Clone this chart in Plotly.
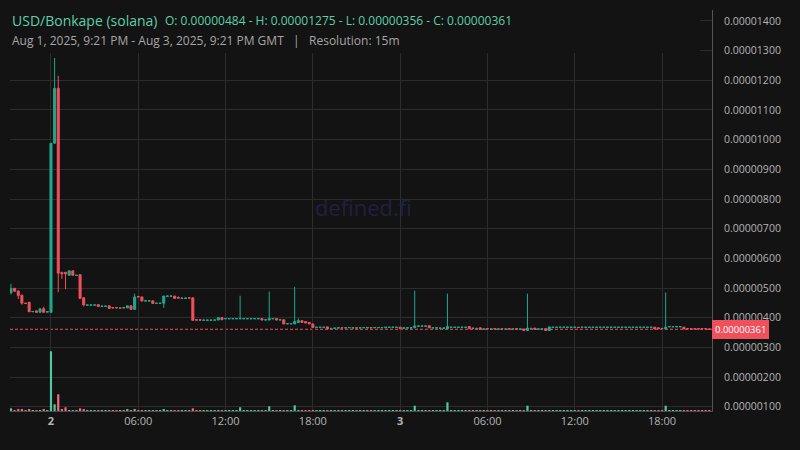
import pandas as pd
import plotly.graph_objects as go

# 15m candles, prices in units of 1e-8 USD
times = pd.date_range('2025-08-01 21:15', periods=193, freq='15min')

open_ = [
    484, 499, 490, 476, 449, 452, 420, 423, 418, 430,
    419, 418, 988, 1173, 553, 553, 543, 558, 542, 545,
    467, 442, 442, 442, 444, 438, 438, 440, 434, 434,
    432, 434, 433, 440, 428, 471, 470, 456, 456, 457,
    448, 448, 449, 472, 472, 473, 468, 465, 465, 467,
    467, 393, 393, 391, 391, 391, 392, 392, 400, 396,
    396, 396, 396, 396, 396, 396, 396, 396, 396, 397,
    392, 392, 396, 397, 392, 393, 379, 379, 379, 384,
    390, 387, 384, 379, 367, 367, 367, 369, 363, 364,
    365, 366, 365, 366, 365, 366, 365, 366, 365, 367,
    366, 366, 366, 366, 367, 367, 367, 368, 364, 365,
    365, 366, 371, 371, 371, 373, 365, 365, 364, 364,
    363, 367, 367, 367, 367, 367, 370, 365, 363, 366,
    361, 363, 361, 363, 361, 363, 361, 363, 361, 363,
    361, 362, 357, 363, 365, 361, 361, 363, 357, 367,
    367, 367, 367, 367, 367, 367, 368, 367, 367, 367,
    367, 367, 367, 367, 367, 367, 367, 367, 367, 367,
    367, 367, 367, 367, 367, 367, 367, 368, 366, 364,
    362, 369, 369, 369, 369, 368, 363, 363, 363, 363,
    363, 363, 362,
]
high = [
    514, 500, 491, 477, 450, 452, 421, 423, 430, 437,
    420, 988, 1275, 1215, 553, 553, 558, 558, 544, 545,
    467, 444, 443, 444, 444, 440, 440, 440, 434, 434,
    434, 434, 440, 440, 481, 471, 470, 457, 457, 457,
    449, 449, 473, 474, 474, 473, 472, 467, 467, 467,
    467, 393, 393, 393, 393, 393, 393, 400, 400, 397,
    397, 397, 397, 474, 397, 397, 397, 397, 397, 397,
    393, 488, 397, 397, 393, 393, 380, 380, 504, 398,
    390, 387, 384, 379, 368, 368, 368, 370, 365, 365,
    366, 366, 367, 367, 367, 366, 367, 367, 367, 367,
    367, 368, 368, 368, 369, 369, 369, 368, 366, 367,
    367, 491, 373, 373, 373, 373, 367, 367, 366, 366,
    481, 369, 369, 369, 369, 369, 370, 365, 365, 366,
    363, 363, 363, 363, 363, 363, 363, 363, 363, 363,
    363, 362, 481, 365, 365, 363, 363, 363, 370, 369,
    369, 369, 369, 369, 369, 369, 368, 369, 369, 369,
    369, 369, 369, 369, 369, 369, 369, 369, 369, 369,
    369, 369, 369, 369, 369, 369, 369, 368, 366, 364,
    485, 370, 370, 370, 370, 368, 363, 363, 363, 363,
    363, 363, 362,
]
low = [
    478, 488, 463, 444, 447, 420, 419, 418, 418, 418,
    418, 418, 988, 486, 531, 496, 543, 543, 542, 465,
    438, 442, 442, 442, 438, 438, 438, 431, 432, 432,
    432, 433, 433, 428, 428, 470, 456, 455, 455, 448,
    448, 448, 433, 472, 472, 465, 466, 465, 465, 466,
    391, 391, 391, 391, 391, 391, 391, 392, 393, 396,
    396, 396, 396, 396, 396, 396, 396, 396, 396, 392,
    392, 392, 396, 392, 392, 379, 379, 379, 379, 384,
    384, 382, 379, 367, 367, 367, 367, 361, 363, 363,
    364, 365, 365, 365, 365, 365, 365, 365, 365, 366,
    366, 366, 366, 366, 367, 367, 367, 363, 364, 365,
    365, 366, 371, 371, 371, 366, 365, 365, 364, 364,
    363, 367, 367, 367, 367, 367, 363, 363, 363, 361,
    361, 361, 361, 361, 361, 361, 361, 361, 361, 361,
    361, 356, 356, 363, 361, 361, 361, 356, 356, 367,
    367, 367, 367, 367, 367, 367, 367, 367, 367, 367,
    367, 367, 367, 367, 367, 367, 367, 367, 367, 367,
    367, 367, 367, 367, 367, 367, 367, 362, 362, 362,
    362, 368, 368, 368, 368, 362, 361, 361, 361, 361,
    361, 361, 361,
]
close = [
    499, 489, 475, 449, 448, 420, 421, 418, 430, 418,
    420, 988, 1173, 550, 548, 548, 558, 543, 543, 465,
    443, 443, 443, 443, 438, 439, 439, 431, 433, 433,
    433, 433, 440, 428, 470, 470, 456, 457, 457, 448,
    449, 449, 473, 473, 473, 465, 466, 466, 466, 466,
    391, 392, 392, 392, 392, 392, 392, 400, 393, 397,
    397, 397, 397, 397, 397, 397, 397, 397, 397, 392,
    393, 397, 397, 392, 393, 379, 380, 380, 387, 390,
    384, 382, 379, 367, 368, 368, 368, 362, 364, 365,
    366, 365, 366, 367, 366, 365, 366, 367, 367, 366,
    367, 367, 367, 368, 368, 368, 368, 363, 366, 366,
    366, 372, 372, 372, 372, 366, 366, 366, 365, 365,
    370, 368, 368, 368, 368, 368, 363, 364, 364, 361,
    362, 362, 362, 362, 362, 362, 362, 362, 362, 362,
    362, 357, 365, 364, 361, 362, 362, 357, 369, 368,
    368, 368, 368, 368, 368, 368, 367, 368, 368, 368,
    368, 368, 368, 368, 368, 368, 368, 368, 368, 368,
    368, 368, 368, 368, 368, 368, 368, 362, 363, 363,
    368, 370, 370, 370, 370, 362, 362, 362, 362, 362,
    362, 362, 361,
]
# volume, thousand USD
volume = [
    2.7, 0.7, 1.7, 1.7, 0.7, 1.7, 0.7, 0.7, 0.7, 1.7,
    0.7, 59.7, 6.7, 16.7, 1.7, 3.7, 0.7, 0.7, 0.7, 2.7,
    1.7, 0.7, 0.7, 0.7, 0.7, 0.7, 0.7, 0.7, 0.7, 0.7,
    0.7, 0.7, 1.7, 0.7, 1.7, 0.7, 0.7, 0.7, 0.7, 0.7,
    0.7, 0.7, 1.7, 0.7, 0.7, 0.7, 0.7, 0.7, 0.7, 0.7,
    2.7, 0.7, 0.7, 0.7, 0.7, 0.7, 0.7, 0.7, 0.7, 0.7,
    0.7, 0.7, 0.7, 3.7, 0.7, 0.7, 0.7, 0.7, 0.7, 0.7,
    0.7, 4.7, 0.7, 0.7, 0.7, 0.7, 0.7, 0.7, 5.7, 0.7,
    0.7, 0.7, 0.7, 0.7, 0.7, 0.7, 0.7, 0.7, 0.7, 0.7,
    0.7, 0.7, 0.7, 0.7, 0.7, 0.7, 0.7, 0.7, 0.7, 0.7,
    0.7, 0.7, 0.7, 0.7, 0.7, 0.7, 0.7, 0.7, 0.7, 0.7,
    0.7, 5.3, 0.7, 0.7, 0.7, 0.7, 0.7, 0.7, 0.7, 0.7,
    8.7, 0.7, 0.7, 0.7, 0.7, 0.7, 0.7, 0.7, 0.7, 0.7,
    0.7, 0.7, 0.7, 0.7, 0.7, 0.7, 0.7, 0.7, 0.7, 0.7,
    0.7, 0.7, 5.3, 0.7, 0.7, 0.7, 0.7, 0.7, 0.7, 0.7,
    0.7, 0.7, 0.7, 0.7, 0.7, 0.7, 0.7, 0.7, 0.7, 0.7,
    0.7, 0.7, 0.7, 0.7, 0.7, 0.7, 0.7, 0.7, 0.7, 0.7,
    0.7, 0.7, 0.7, 0.7, 0.7, 0.7, 0.7, 0.7, 0.7, 0.7,
    5.3, 0.7, 0.7, 0.7, 0.7, 0.7, 0.7, 0.7, 0.7, 0.7,
    0.7, 0.7, 0.7,
]

price_ticks = [100, 200, 300, 400, 500, 600, 700, 800, 900, 1000, 1100, 1200, 1300, 1400]
time_ticks = ['2025-08-02 00:00', '2025-08-02 06:00', '2025-08-02 12:00', '2025-08-02 18:00',
              '2025-08-03 00:00', '2025-08-03 06:00', '2025-08-03 12:00', '2025-08-03 18:00']
time_labels = ['<b>2</b>', '06:00', '12:00', '18:00', '<b>3</b>', '06:00', '12:00', '18:00']
last_price = 361

UNIT = 1e-8
BG = '#131313'
GREEN = '#1fa88e'
RED = '#f0505c'
TEAL_TXT = '#5ecfaa'

vol_colors = ['#52c7a0' if c >= o else '#ee6e7d' for o, c in zip(open_, close)]

fig = go.Figure()
fig.add_trace(go.Bar(x=times, y=volume, marker_color=vol_colors, marker_line_width=0,
                     yaxis='y2', showlegend=False, hoverinfo='skip'))
fig.add_trace(go.Candlestick(
    x=times,
    open=[v * UNIT for v in open_], high=[v * UNIT for v in high],
    low=[v * UNIT for v in low], close=[v * UNIT for v in close],
    increasing=dict(line=dict(color=GREEN, width=1), fillcolor=GREEN),
    decreasing=dict(line=dict(color=RED, width=1), fillcolor=RED),
    showlegend=False))

fig.update_layout(
    width=800, height=450,
    margin=dict(l=10, r=88, t=10, b=39),
    paper_bgcolor=BG, plot_bgcolor=BG,
    font=dict(family='Open Sans', color='#b4b4b4', size=11),
    boxgap=0.2, bargap=0.4,
    xaxis=dict(type='date', range=['2025-08-01 21:11', '2025-08-03 21:26'],
               tickvals=time_ticks, ticktext=time_labels,
               showgrid=True, gridcolor='#2c2c2c', gridwidth=1,
               showline=True, linecolor='#4a4a4a', ticks='',
               tickfont=dict(size=11, color='#b4b4b4'),
               rangeslider=dict(visible=False), zeroline=False),
    yaxis=dict(side='right', range=[85.5 * UNIT, 1437 * UNIT],
               tickvals=[v * UNIT for v in price_ticks], tickformat='.8f',
               showgrid=True, gridcolor='#2c2c2c', gridwidth=1,
               showline=True, linecolor='#555555', ticks='',
               ticklabelstandoff=9, zeroline=False,
               tickfont=dict(size=10.5, color='#b4b4b4')),
    yaxis2=dict(overlaying='y', range=[0, 401], visible=False, showgrid=False),
)

# header backdrop hides grid under the title lines
fig.add_shape(type='rect', xref='paper', yref='paper', x0=-0.02, x1=0.983, y0=0.893, y1=1.03,
              fillcolor=BG, line_width=0, layer='above')

# last price line and label
fig.add_shape(type='line', xref='paper', yref='y', x0=0, x1=1,
              y0=last_price * UNIT, y1=last_price * UNIT,
              line=dict(color=RED, width=1, dash='3px,2px'), layer='below')
fig.add_annotation(x=1, xref='paper', y=last_price * UNIT, yref='y', xanchor='left', yanchor='middle',
                   text=f'{last_price * UNIT:.8f}', showarrow=False, bgcolor=RED, borderwidth=0,
                   font=dict(color='white', size=9.5), borderpad=3)

fig.add_annotation(x=0.503, y=0.509, xref='paper', yref='paper', text='defined.fi', showarrow=False,
                   font=dict(size=22, color='#1f2140'))

fig.add_annotation(x=0, y=0.975, xref='paper', yref='paper', xanchor='left', yanchor='middle',
                   text='USD/Bonkape (solana)', showarrow=False,
                   font=dict(size=14, color=TEAL_TXT))
fig.add_annotation(x=0.218, y=0.974, xref='paper', yref='paper', xanchor='left', yanchor='middle',
                   text=f'O: {open_[0] * UNIT:.8f} - H: {max(high) * UNIT:.8f} - '
                        f'L: {min(low) * UNIT:.8f} - C: {close[-1] * UNIT:.8f}',
                   showarrow=False, font=dict(size=12, color=TEAL_TXT))
fig.add_annotation(x=0, y=0.923, xref='paper', yref='paper', xanchor='left', yanchor='middle',
                   text='Aug 1, 2025, 9:21 PM - Aug 3, 2025, 9:21 PM GMT\u00a0\u00a0\u00a0|\u00a0\u00a0\u00a0Resolution: 15m',
                   showarrow=False, font=dict(size=12, color='#a6a6a6'))

fig.write_html('out.html', config={'displayModeBar': False},
               post_script="document.body.style.margin='0';")
